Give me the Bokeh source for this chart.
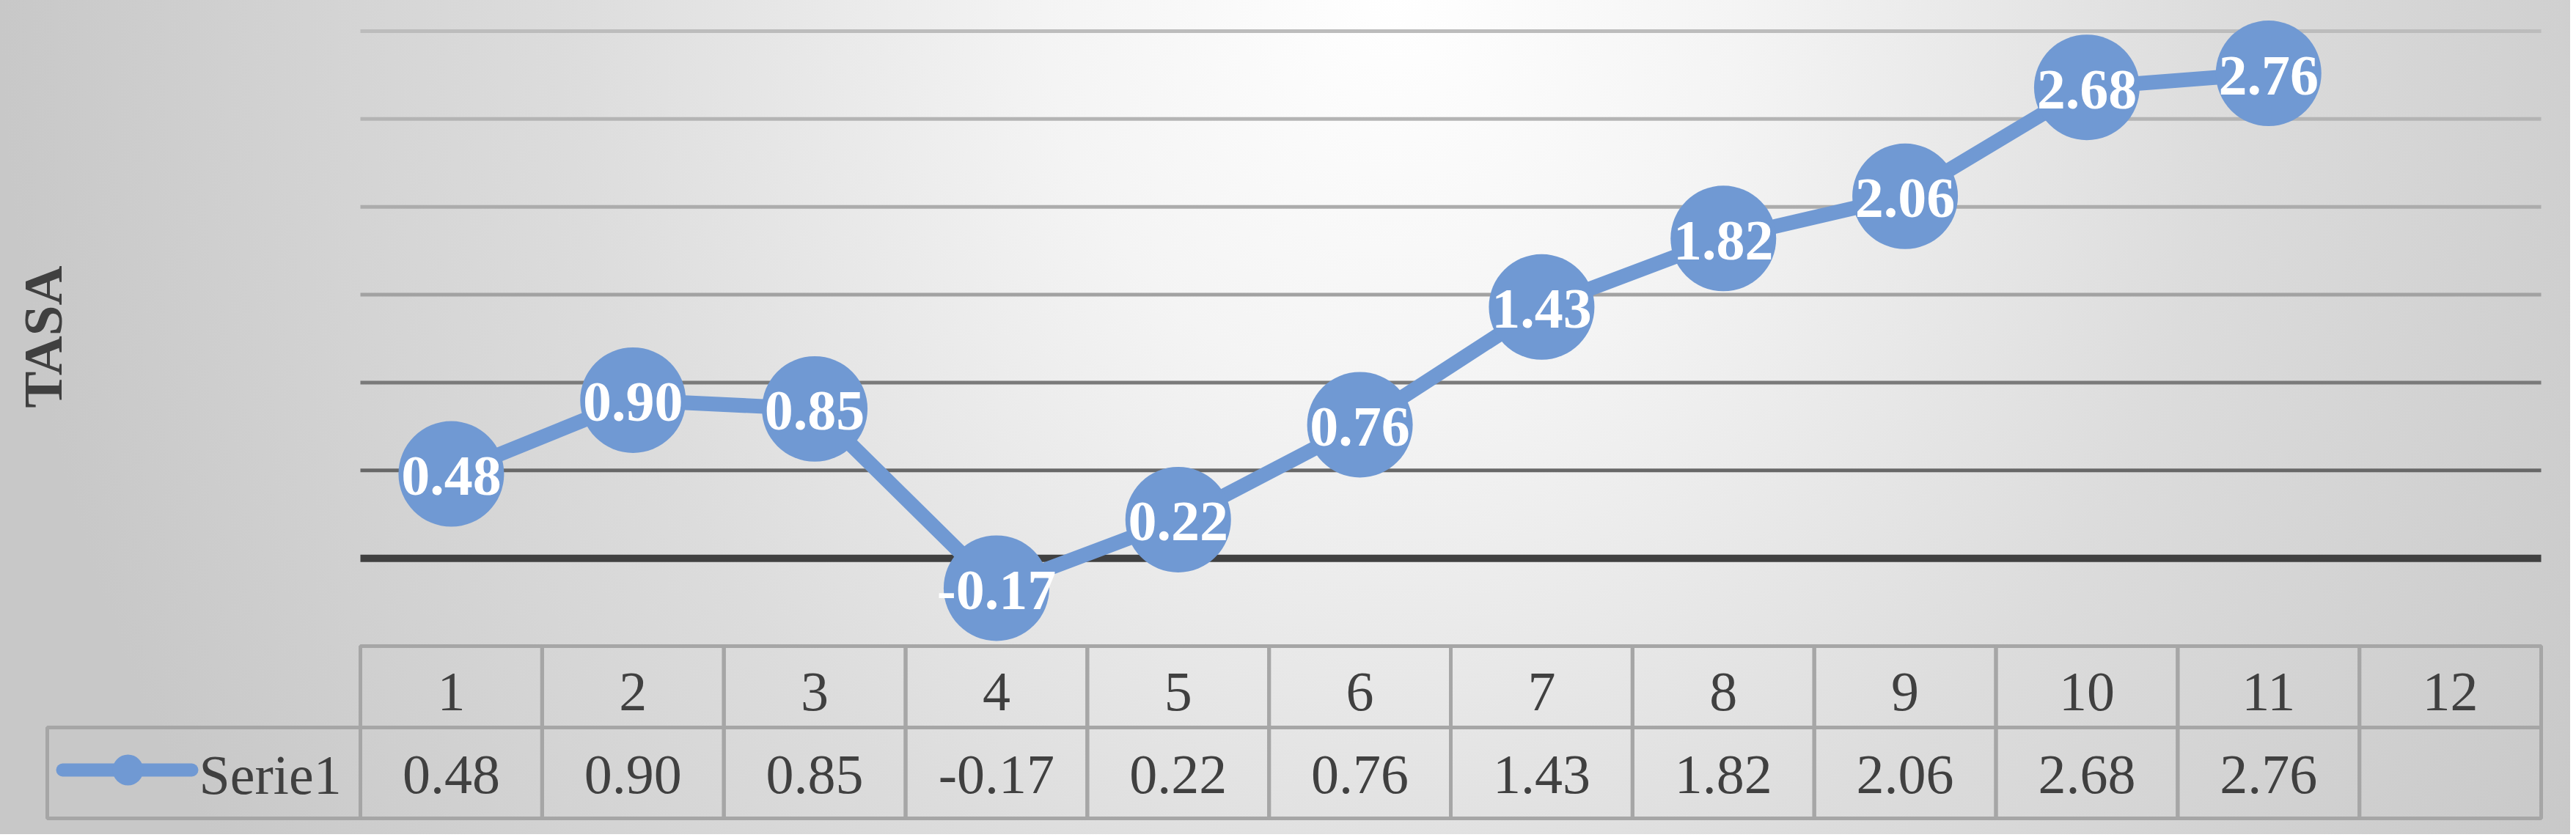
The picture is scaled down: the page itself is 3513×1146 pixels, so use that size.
import math
from bokeh.plotting import figure
from bokeh.models import ColumnDataSource, Range1d
from bokeh.core.properties import value
from bokeh.embed import file_html
from bokeh.resources import INLINE

# ---------------- data ----------------
categories = ["1", "2", "3", "4", "5", "6", "7", "8", "9", "10", "11", "12"]
values = [0.48, 0.90, 0.85, -0.17, 0.22, 0.76, 1.43, 1.82, 2.06, 2.68, 2.76, None]
series_name = "Serie1"
axis_title = "TASA"
y_min, y_max = -0.5, 3.0
grid_values = [0.5, 1.0, 1.5, 2.0, 2.5, 3.0]

# ---------------- layout (reference pixels) ----------------
W, H = 3505, 1138
OFF = 0
PLOT_L, PLOT_R = 491, 3465
PLOT_T, PLOT_B = 42, 881
ncat = len(categories)
cat_px = (PLOT_R - PLOT_L) / ncat
unit_px = (PLOT_B - PLOT_T) / (y_max - y_min)

x_start = 0.5 - (PLOT_L - OFF) / cat_px
x_end = x_start + W / cat_px
y_end = y_max + (PLOT_T - OFF) / unit_px
y_start = y_end - H / unit_px


def X(px):
    return x_start + (px - OFF) / cat_px


def Y(py):
    return y_end - (py - OFF) / unit_px


BLUE = "#7099d3"
TXT = "#404040"
GRID_COLORS = ["#686868", "#7a7a7a", "#a2a2a2", "#acacac", "#b4b4b4", "#bcbcbc"]
TABLE_LINE = "#a6a6a6"
SERIF = value("Liberation Serif")

xs = list(range(1, ncat + 1))
ys = [v if v is not None else float("nan") for v in values]
labels = ["" if v is None else f"{v:.2f}" for v in values]

src = ColumnDataSource(dict(x=xs, y=ys, lab=labels, cat=categories))

p = figure(width=W, height=H, x_range=Range1d(x_start, x_end),
           y_range=Range1d(y_start, y_end), output_backend="svg",
           toolbar_location=None, min_border=0,
           x_axis_location=None, y_axis_location=None)
p.grid.visible = False
p.outline_line_color = None
p.background_fill_alpha = 0
p.border_fill_alpha = 0
p.styles = {
    "background-image": "radial-gradient(ellipse 1900px 2200px at 1900px -10px, "
                        "#ffffff 0%, #f4f4f4 25%, #dcdcdc 60%, #c8c8c8 100%)",
}

# gridlines
p.segment(x0=[0.5] * len(grid_values), x1=[ncat + 0.5] * len(grid_values),
          y0=grid_values, y1=grid_values, line_color=GRID_COLORS, line_width=5)
# zero line
p.segment(x0=[0.5], x1=[ncat + 0.5], y0=[0], y1=[0], line_color=TXT, line_width=10)

# series
p.line("x", "y", source=src, line_color=BLUE, line_width=20, line_join="round")
p.scatter("x", "y", source=src, size=144, fill_color=BLUE, line_color=None)
p.text("x", "y", text="lab", source=src, text_color="white",
       text_font=SERIF, text_font_size=value("78px"), text_font_style="bold",
       text_align="center", text_baseline="middle", y_offset=3)

# y-axis title
p.text(x=[X(58)], y=[Y(459)], text=[axis_title], angle=math.pi / 2,
       text_color=TXT, text_font=SERIF, text_font_size=value("75px"),
       text_font_style="bold", text_align="center", text_baseline="middle")

# data table
hdr_top, hdr_bot, row_bot = Y(881), Y(992), Y(1116)
p.quad(left=[x - 0.5 for x in xs], right=[x + 0.5 for x in xs],
       top=[hdr_top] * ncat, bottom=[hdr_bot] * ncat,
       fill_color=None, line_color=TABLE_LINE, line_width=5)
p.quad(left=[x - 0.5 for x in xs], right=[x + 0.5 for x in xs],
       top=[hdr_bot] * ncat, bottom=[row_bot] * ncat,
       fill_color=None, line_color=TABLE_LINE, line_width=5)
p.quad(left=[X(64)], right=[0.5], top=[hdr_bot], bottom=[row_bot],
       fill_color=None, line_color=TABLE_LINE, line_width=5)

p.text("x", y=Y(943), text="cat", source=src, text_color=TXT,
       text_font=SERIF, text_font_size=value("76px"),
       text_align="center", text_baseline="middle")
p.text("x", y=Y(1056), text="lab", source=src, text_color=TXT,
       text_font=SERIF, text_font_size=value("76px"),
       text_align="center", text_baseline="middle")

# legend key inside table
p.segment(x0=[X(85)], x1=[X(261)], y0=[Y(1050)], y1=[Y(1050)],
          line_color=BLUE, line_width=18, line_cap="round")
p.scatter(x=[X(174)], y=[Y(1050)], size=42, fill_color=BLUE, line_color=None)
p.text(x=[X(271)], y=[Y(1056)], text=[series_name], text_color=TXT,
       text_font=SERIF, text_font_size=value("76px"),
       text_align="left", text_baseline="middle")

open("out.html", "w").write(file_html(p, INLINE))
